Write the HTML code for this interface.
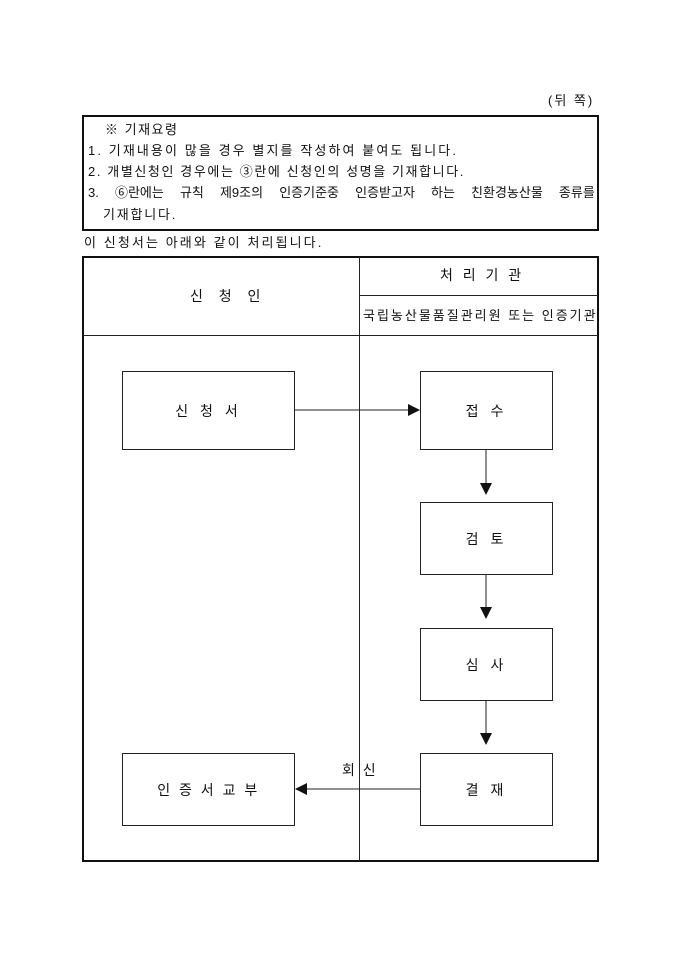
<!DOCTYPE html>
<html><head><meta charset="utf-8"><style>
body{margin:0;width:680px;height:962px;background:#fff;font-family:"Liberation Sans","Noto Sans CJK KR",sans-serif;color:#111;position:relative;overflow:hidden}
.a{position:absolute;font-size:13px;white-space:nowrap;line-height:1}
.b{position:absolute;border:1px solid #222;box-sizing:border-box}
.c{display:flex;align-items:center;justify-content:center;font-size:14px;letter-spacing:4px}
</style></head><body>
<div class="a" style="left:548px;top:94px;letter-spacing:2px">(뒤 쪽)</div>
<div class="b" style="left:82px;top:115px;width:517px;height:116px;border:2px solid #111"></div>
<div class="a" style="left:105px;top:123px;letter-spacing:1.5px">※ 기재요령</div>
<div class="a" style="left:88px;top:144px;letter-spacing:2.1px">1. 기재내용이 많을 경우 별지를 작성하여 붙여도 됩니다.</div>
<div class="a" style="left:88px;top:165px;letter-spacing:1.6px">2. 개별신청인 경우에는 ③란에 신청인의 성명을 기재합니다.</div>
<div class="a" style="left:88px;top:186px;word-spacing:12.5px">3. ⑥란에는 규칙 제9조의 인증기준중 인증받고자 하는 친환경농산물 종류를</div>
<div class="a" style="left:103px;top:208px;letter-spacing:1.8px">기재합니다.</div>
<div class="a" style="left:84px;top:236px;letter-spacing:2.1px">이 신청서는 아래와 같이 처리됩니다.</div>
<div class="b" style="left:82px;top:256px;width:517px;height:606px;border:2px solid #111"></div>
<div style="position:absolute;left:359px;top:257px;width:1px;height:604px;background:#222"></div>
<div style="position:absolute;left:359px;top:295px;width:239px;height:1px;background:#222"></div>
<div style="position:absolute;left:83px;top:335px;width:515px;height:1px;background:#222"></div>
<div class="a" style="left:190px;top:289px;letter-spacing:6px;font-size:14px">신 청 인</div>
<div class="a" style="left:440px;top:268px;font-size:14px;letter-spacing:3px">처 리 기 관</div>
<div class="a" style="left:363px;top:309px;letter-spacing:2px">국립농산물품질관리원 또는 인증기관</div>
<div class="b c" style="left:122px;top:371px;width:173px;height:79px">신 청 서</div>
<div class="b c" style="left:420px;top:371px;width:133px;height:79px">접 수</div>
<div class="b c" style="left:420px;top:502px;width:133px;height:73px">검 토</div>
<div class="b c" style="left:420px;top:628px;width:133px;height:73px">심 사</div>
<div class="b c" style="left:420px;top:753px;width:133px;height:73px">결 재</div>
<div class="b c" style="left:122px;top:753px;width:173px;height:73px;letter-spacing:2.5px">인 증 서 교 부</div>
<div class="a" style="left:342px;top:763px;font-size:14px;letter-spacing:2px">회 신</div>
<svg width="680" height="962" style="position:absolute;left:0;top:0">
<g stroke="#222" fill="none"><line x1="295" y1="410" x2="410" y2="410"/><line x1="486" y1="450" x2="486" y2="484"/><line x1="486" y1="575" x2="486" y2="608"/><line x1="486" y1="701" x2="486" y2="734"/><line x1="420" y1="789" x2="305" y2="789"/></g>
<g fill="#111"><polygon points="408,404 420,410 408,416"/><polygon points="480,483 492,483 486,495"/><polygon points="480,607 492,607 486,619"/><polygon points="480,733 492,733 486,745"/><polygon points="307,783 295,789 307,795"/></g>
</svg>
</body></html>
